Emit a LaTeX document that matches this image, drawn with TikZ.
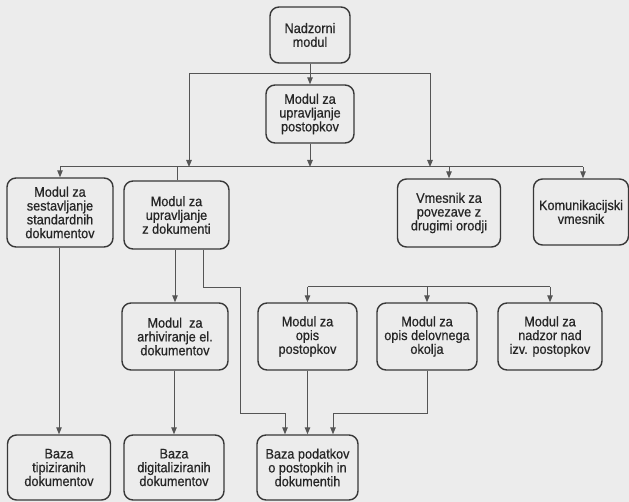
\documentclass[tikz,border=0pt]{standalone}
\usepackage{fontspec}
\setmainfont{Liberation Sans}[FakeStretch=0.92, FakeBold=0.6]
\usetikzlibrary{arrows.meta}
\definecolor{bg}{HTML}{ECECEC}
\definecolor{boxline}{HTML}{383838}
\definecolor{conn}{HTML}{555555}
\definecolor{txt}{HTML}{262626}
\tikzset{
  box/.style={draw=boxline, line width=1.4pt, rounded corners=9pt, fill=bg,
    align=center, inner sep=1pt, text=txt,
    font=\fontsize{13.8}{13.8}\selectfont},
  link/.style={draw=conn, line width=1pt},
  arr/.style={link, -{Triangle[length=7pt,width=5.5pt]}},
}
\begin{document}
\begin{tikzpicture}[x=1pt,y=-1pt]
\fill[bg] (0,0) rectangle (629,502);
\useasboundingbox (0,0) rectangle (629,502);

% nodes
\node[box, minimum width=80pt, minimum height=56pt] (nad) at (310,35) {Nadzorni\\modul};
\node[box, minimum width=88pt, minimum height=58pt] (post) at (310,114) {Modul za\\upravljanje\\postopkov};

\node[box, minimum width=106pt, minimum height=69pt] (ses) at (60,212.5) {Modul za\\sestavljanje\\standardnih\\dokumentov};
\node[box, minimum width=105pt, minimum height=68pt] (dok) at (176.5,215) {Modul za\\upravljanje\\z dokumenti};
\node[box, minimum width=103pt, minimum height=68pt] (vme) at (449,213) {Vmesnik za\\povezave z\\drugimi orodji};
\node[box, minimum width=95pt, minimum height=66pt] (kom) at (581,212) {Komunikacijski\\vmesnik};

\node[box, minimum width=106pt, minimum height=67pt] (arh) at (175,336.5) {Modul~ za\\arhiviranje el.\\dokumentov};
\node[box, minimum width=99pt, minimum height=67pt] (opp) at (307.5,336.5) {Modul za\\opis\\postopkov};
\node[box, minimum width=100pt, minimum height=67pt] (opd) at (427,336.5) {Modul za\\opis delovnega\\okolja};
\node[box, minimum width=104pt, minimum height=67pt] (nzr) at (550,336.5) {Modul za\\nadzor nad\\izv. postopkov};

\node[box, minimum width=103pt, minimum height=65pt] (btp) at (59,467.5) {Baza\\tipiziranih\\dokumentov};
\node[box, minimum width=100pt, minimum height=65pt] (bdg) at (174,467.5) {Baza\\digitaliziranih\\dokumentov};
\node[box, minimum width=101pt, minimum height=65pt] (bpd) at (307.5,467.5) {Baza podatkov\\o postopkih in\\dokumentih};

% coordinates
\coordinate (jt) at (310,74);
\coordinate (busL) at (60,167);
\coordinate (busR) at (583,167);
\coordinate (bus2L) at (307.5,287);
\coordinate (bus2R) at (550,287);

% top part
\draw[arr] (nad.south) -- (post.north);
\draw[arr] (jt) -| (189,167);
\draw[arr] (jt) -| (430,167);
\draw[arr] (post.south) -- (310,167);

% main bus
\draw[link] (busL) -- (busR);
\draw[arr] (busL) -- (ses.north);
\draw[arr] (busR) -- (busR |- kom.north);
\draw[arr] (vme.north |- busL) -- (vme.north);
\draw[link] (177,167) -- (dok.north -| 177,0);

% from dok
\draw[arr] (dok.south -| 175,0) -- (arh.north);
\draw[arr] (dok.south -| 203,0) |- (240,288) |- (285,413) -- (bpd.north -| 285,0);

% second bus
\draw[link] (bus2L) -- (bus2R);
\draw[arr] (bus2L) -- (opp.north);
\draw[arr] (opd.north |- bus2L) -- (opd.north);
\draw[arr] (bus2R) -- (nzr.north);

% to bottom
\draw[arr] (ses.south -| btp.north) -- (btp.north);
\draw[arr] (arh.south -| bdg.north) -- (bdg.north);
\draw[arr] (opp.south) -- (bpd.north);
\draw[arr] (opd.south) |- (333,413) -- (bpd.north -| 333,0);
\end{tikzpicture}
\end{document}
